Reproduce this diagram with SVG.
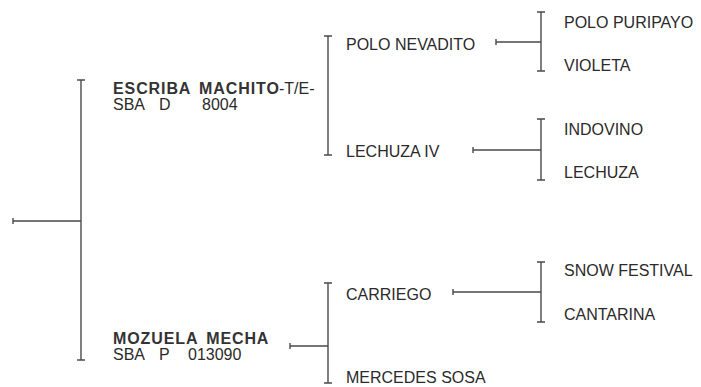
<svg xmlns="http://www.w3.org/2000/svg" width="701" height="387" viewBox="0 0 701 387">
<style>
text{font-family:"Liberation Sans",Arial,sans-serif;font-size:16px;fill:#2a2a2a}
.b{font-weight:bold;letter-spacing:0.9px;word-spacing:3px;fill:#333}
.ln{stroke:#4a4a4a;stroke-width:1.4;fill:none}
</style>
<rect width="701" height="387" fill="#fff"/>
<g id="connectors" class="ln">
  <path d="M13 218v6M13 221H81M77 80h8M81 80V360M77 360h8"/>
  <path d="M324 36h8M328 36V155M324 155h8"/>
  <path d="M496 39v6M496 42H541M537 12h8M541 12V71M537 71h8"/>
  <path d="M473 147v6M473 150H541M537 119h8M541 119V180M537 180h8"/>
  <path d="M290 343v6M290 346H328M324 283h8M328 283V383M324 383h8"/>
  <path d="M453 289v6M453 292H541M537 262h8M541 262V322M537 322h8"/>
</g>
<g id="n-escriba"><text x="113" y="94"><tspan class="b">ESCRIBA MACHITO</tspan><tspan x="279">-T/E-</tspan></text><text y="110"><tspan x="113">SBA</tspan><tspan x="159">D</tspan><tspan x="202">8004</tspan></text></g>
<g id="n-mozuela"><text x="113" y="344" class="b">MOZUELA MECHA</text><text y="360"><tspan x="113">SBA</tspan><tspan x="159">P</tspan><tspan x="188">013090</tspan></text></g>
<g id="n-polonevadito"><text x="346" y="50">POLO NEVADITO</text></g>
<g id="n-lechuzaiv"><text x="346" y="157">LECHUZA IV</text></g>
<g id="n-carriego"><text x="346" y="300">CARRIEGO</text></g>
<g id="n-mercedes"><text x="346" y="383">MERCEDES SOSA</text></g>
<g id="n-polopuripayo"><text x="564" y="28">POLO PURIPAYO</text></g>
<g id="n-violeta"><text x="564" y="71">VIOLETA</text></g>
<g id="n-indovino"><text x="564" y="135">INDOVINO</text></g>
<g id="n-lechuza"><text x="564" y="178">LECHUZA</text></g>
<g id="n-snow"><text x="564" y="276">SNOW FESTIVAL</text></g>
<g id="n-cantarina"><text x="564" y="320">CANTARINA</text></g>
</svg>
